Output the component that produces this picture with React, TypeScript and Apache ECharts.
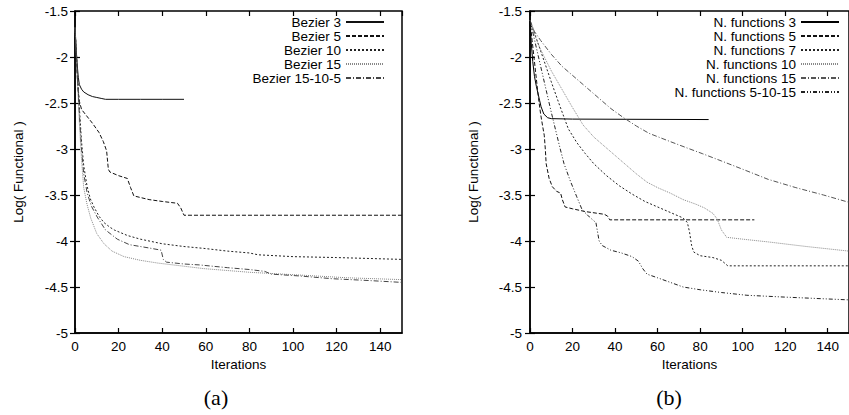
import React, { useEffect, useRef } from "react";
import * as echarts from "echarts";

type Pt = [number, number];

// ---- Panel (a): Bezier curves ----
const leftNames = ["Bezier 3", "Bezier 5", "Bezier 10", "Bezier 15", "Bezier 15-10-5"];
const bezier3: Pt[] = [[0,-1.66],[0.5,-1.9],[1,-2.08],[1.5,-2.22],[2,-2.3],[3,-2.35],[4,-2.38],[6,-2.41],[8,-2.43],[10,-2.44],[12,-2.45],[14,-2.46],[20,-2.46],[30,-2.46],[40,-2.46],[50,-2.46]];
const bezier5: Pt[] = [[0,-1.68],[0.5,-1.95],[1,-2.2],[1.5,-2.38],[2,-2.48],[3,-2.57],[5,-2.63],[8,-2.72],[11,-2.82],[13,-2.92],[14.5,-3.02],[15.3,-3.22],[16,-3.25],[20,-3.29],[24,-3.32],[25.5,-3.42],[27,-3.51],[34,-3.55],[40,-3.57],[47,-3.59],[48.5,-3.64],[50,-3.72],[150,-3.72]];
const bezier10: Pt[] = [[0,-1.68],[1,-2.1],[2,-2.55],[3,-2.92],[4,-3.18],[5.5,-3.4],[7,-3.54],[8.7,-3.63],[11,-3.73],[13.3,-3.8],[16,-3.85],[18,-3.88],[24,-3.94],[30,-3.98],[40,-4.03],[50,-4.06],[59,-4.08],[70,-4.11],[80,-4.13],[84,-4.15],[100,-4.17],[120,-4.18],[150,-4.2]];
const bezier15: Pt[] = [[0,-1.68],[1,-2.2],[2,-2.72],[3,-3.12],[4,-3.42],[5.5,-3.6],[7.2,-3.75],[10,-3.92],[13.3,-4.03],[17,-4.11],[22.5,-4.17],[30,-4.21],[38,-4.24],[45,-4.26],[59,-4.3],[80,-4.34],[103,-4.37],[125,-4.4],[150,-4.42]];
const bezier15105: Pt[] = [[0,-1.68],[1,-2.15],[2,-2.62],[3,-3.0],[4,-3.27],[5.6,-3.48],[7.5,-3.62],[10.2,-3.74],[14,-3.88],[19.4,-3.98],[25,-4.04],[30,-4.06],[35,-4.08],[39.5,-4.1],[40.5,-4.2],[42,-4.23],[50,-4.25],[57,-4.26],[70,-4.29],[80,-4.31],[87,-4.33],[90,-4.36],[103,-4.38],[118,-4.41],[135,-4.43],[150,-4.45]];

// ---- Panel (b): number of functions ----
const rightNames = ["N. functions 3", "N. functions 5", "N. functions 7", "N. functions 10", "N. functions 15", "N. functions 5-10-15"];
const nf3: Pt[] = [[0,-1.6],[0.6,-1.85],[1.3,-2.05],[2.1,-2.21],[3,-2.32],[3.7,-2.39],[4.5,-2.47],[5.2,-2.54],[6.5,-2.62],[8.3,-2.66],[10,-2.67],[20,-2.675],[84,-2.68]];
const nf5: Pt[] = [[0,-1.6],[1,-1.82],[2,-2.03],[3,-2.24],[4,-2.45],[5,-2.62],[6,-2.76],[6.7,-2.85],[7.2,-3.0],[7.6,-3.16],[9,-3.32],[10.5,-3.41],[12.5,-3.46],[14.4,-3.48],[15.2,-3.55],[16.5,-3.63],[20,-3.65],[26,-3.68],[35,-3.71],[36.5,-3.73],[37.5,-3.77],[105.5,-3.77]];
const nf7: Pt[] = [[0,-1.6],[3,-1.8],[6,-2.0],[10,-2.27],[14,-2.53],[18,-2.78],[22,-2.93],[26,-3.05],[30,-3.16],[36,-3.29],[42,-3.4],[48,-3.49],[54,-3.57],[60,-3.63],[66,-3.69],[72,-3.75],[74,-3.8],[75,-3.9],[76,-4.05],[77,-4.12],[80,-4.16],[86,-4.18],[90,-4.21],[93,-4.27],[150,-4.27]];
const nf10: Pt[] = [[0,-1.6],[2,-1.75],[5,-1.92],[10,-2.15],[15,-2.35],[20,-2.55],[25,-2.74],[30,-2.87],[35,-2.97],[40,-3.07],[45,-3.17],[50,-3.27],[55,-3.36],[60,-3.42],[66,-3.48],[72,-3.55],[78,-3.6],[82,-3.64],[86,-3.7],[88,-3.76],[90,-3.88],[92.5,-3.96],[100,-3.98],[112,-4.01],[130,-4.06],[150,-4.11]];
const nf15: Pt[] = [[0,-1.6],[2,-1.72],[5,-1.82],[10,-1.97],[15,-2.1],[20,-2.2],[26,-2.32],[32,-2.44],[38,-2.56],[44,-2.66],[50,-2.75],[56,-2.83],[66,-2.92],[74,-2.99],[81,-3.05],[90,-3.13],[100,-3.22],[112,-3.33],[125,-3.42],[138,-3.5],[150,-3.58]];
const nf51015: Pt[] = [[0,-1.6],[2,-1.8],[4,-2.0],[6,-2.2],[8,-2.4],[10,-2.6],[12,-2.79],[14,-2.98],[16,-3.16],[19,-3.35],[22,-3.52],[24.5,-3.66],[28,-3.74],[31,-3.8],[32.5,-4.0],[34,-4.05],[38,-4.1],[43,-4.13],[48,-4.17],[51,-4.22],[53,-4.3],[55,-4.36],[60,-4.4],[66,-4.45],[72,-4.5],[80,-4.53],[90,-4.56],[102,-4.59],[120,-4.61],[150,-4.64]];

const leftData = [bezier3, bezier5, bezier10, bezier15, bezier15105];
const rightData = [nf3, nf5, nf7, nf10, nf15, nf51015];

const leftStyles: { color: string; type: any }[] = [
  { color: "#111", type: "solid" },
  { color: "#111", type: [4, 2] },
  { color: "#222", type: [2, 2] },
  { color: "#888", type: [1, 1] },
  { color: "#444", type: [5, 2, 1, 2] },
];
const rightStyles: { color: string; type: any }[] = [
  { color: "#000", type: "solid" },
  { color: "#111", type: [4, 2] },
  { color: "#222", type: [2, 2] },
  { color: "#888", type: [1, 1] },
  { color: "#555", type: [5, 2, 1, 2] },
  { color: "#222", type: [4, 2, 1, 2, 1, 2] },
];

const FONT = "Liberation Sans, Arial, Helvetica, sans-serif";
const FS = 13.5;

function App() {
  const ref = useRef<HTMLDivElement>(null);
  useEffect(() => {
    if (!ref.current) return;
    const chart = echarts.init(ref.current, undefined, { renderer: "svg" });

    const grids = [
      { left: 75, top: 11, width: 327, height: 322 },
      { left: 530, top: 11, width: 327, height: 322 },
    ].map((g) => ({ ...g, show: true, borderColor: "#000", borderWidth: 1.5, backgroundColor: "transparent" }));

    const mainX = (gi: number) => ({
      type: "value",
      gridIndex: gi,
      position: "bottom",
      min: 0,
      max: 150,
      interval: 20,
      name: "Iterations",
      nameLocation: "middle",
      nameGap: 24,
      nameTextStyle: { fontFamily: FONT, fontSize: FS, color: "#000" },
      axisLine: { show: true, lineStyle: { color: "#000", width: 1.5 } },
      axisTick: { show: true, inside: true, length: 5, lineStyle: { color: "#000", width: 1.2 } },
      axisLabel: { show: true, showMaxLabel: false, margin: 6, fontFamily: FONT, fontSize: FS, color: "#000" },
      splitLine: { show: false },
    });
    const mirrorX = (gi: number) => ({
      type: "value",
      gridIndex: gi,
      position: "top",
      min: 0,
      max: 150,
      interval: 20,
      axisLine: { show: false },
      axisTick: { show: true, inside: true, length: 5, lineStyle: { color: "#000", width: 1.2 } },
      axisLabel: { show: false },
      splitLine: { show: false },
    });
    const mainY = (gi: number, gap: number, margin: number) => ({
      type: "value",
      gridIndex: gi,
      position: "left",
      min: -5,
      max: -1.5,
      interval: 0.5,
      name: "Log( Functional )",
      nameLocation: "middle",
      nameGap: gap,
      nameTextStyle: { fontFamily: FONT, fontSize: FS, color: "#000" },
      axisLine: { show: true, lineStyle: { color: "#000", width: 1.5 } },
      axisTick: { show: true, inside: true, length: 5, lineStyle: { color: "#000", width: 1.2 } },
      axisLabel: { show: true, margin, fontFamily: FONT, fontSize: FS, color: "#000" },
      splitLine: { show: false },
    });
    const mirrorY = (gi: number) => ({
      type: "value",
      gridIndex: gi,
      position: "right",
      min: -5,
      max: -1.5,
      interval: 0.5,
      axisLine: { show: false },
      axisTick: { show: true, inside: true, length: 5, lineStyle: { color: "#000", width: 1.2 } },
      axisLabel: { show: false },
      splitLine: { show: false },
    });

    const mkSeries = (names: string[], data: Pt[][], styles: { color: string; type: any }[], axisIdx: number) =>
      names.map((name, i) => ({
        type: "line",
        name,
        data: data[i],
        xAxisIndex: axisIdx,
        yAxisIndex: axisIdx,
        symbol: "none",
        showSymbol: false,
        silent: true,
        clip: true,
        lineStyle: { width: 1, color: styles[i].color, type: styles[i].type },
        itemStyle: { color: styles[i].color },
      }));

    const legendBase = {
      orient: "vertical",
      align: "right",
      top: 15,
      padding: 0,
      itemGap: 0,
      itemWidth: 38,
      itemHeight: 10,
      itemStyle: { opacity: 0, borderWidth: 0 },
      textStyle: { fontFamily: FONT, fontSize: FS, color: "#000", lineHeight: 13.5 },
      selectedMode: false,
    };

    chart.setOption({
      animation: false,
      backgroundColor: "#fff",
      grid: grids,
      xAxis: [mainX(0), mainX(1), mirrorX(0), mirrorX(1)],
      yAxis: [mainY(0, 50, 7), mainY(1, 50, 8), mirrorY(0), mirrorY(1)],
      legend: [
        { ...legendBase, data: leftNames, right: 849 - 385 },
        { ...legendBase, data: rightNames, right: 849 - 840 },
      ],
      series: [
        ...mkSeries(leftNames, leftData, leftStyles, 0),
        ...mkSeries(rightNames, rightData, rightStyles, 1),
      ],
      graphic: [
        {
          type: "text",
          x: 216,
          y: 397,
          style: { text: "(a)", font: "22px 'Liberation Serif', 'Times New Roman', serif", fill: "#000", textAlign: "center", textVerticalAlign: "middle" },
        },
        {
          type: "text",
          x: 669,
          y: 397,
          style: { text: "(b)", font: "22px 'Liberation Serif', 'Times New Roman', serif", fill: "#000", textAlign: "center", textVerticalAlign: "middle" },
        },
      ],
    });
    return () => chart.dispose();
  }, []);

  return (
    <div style={{ position: "fixed", left: 0, top: 0, width: 849, height: 415, overflow: "hidden", background: "#fff" }}>
      <div ref={ref} style={{ width: 849, height: 415 }} />
    </div>
  );
}

export default App;
